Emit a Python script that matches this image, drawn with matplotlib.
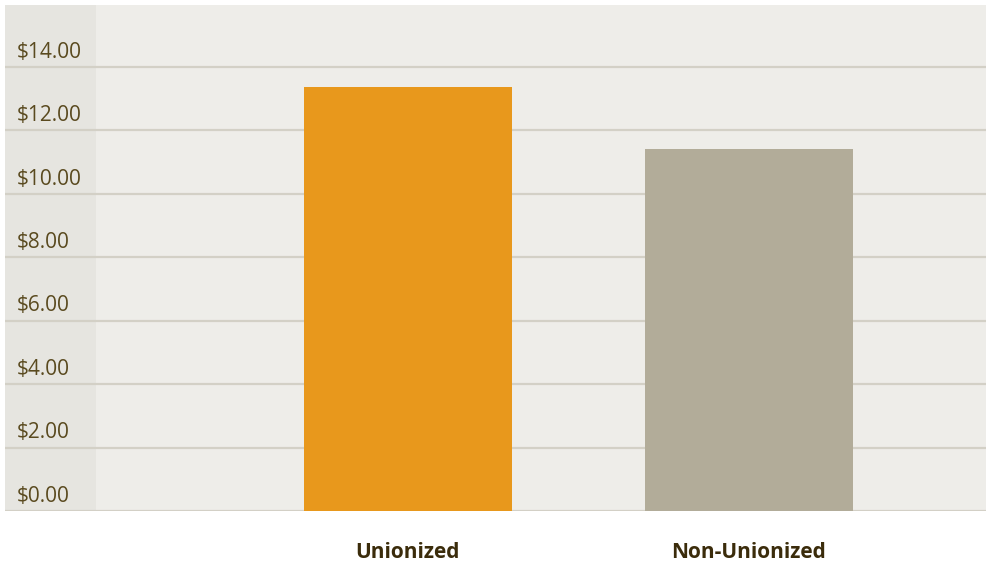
import matplotlib
matplotlib.use("Agg")
import matplotlib.pyplot as plt
import matplotlib.transforms as mtransforms

categories = ["Unionized", "Non-Unionized"]
values = [13.35, 11.40]
bar_colors = ["#E8981C", "#B2AC99"]
yticks = [0, 2, 4, 6, 8, 10, 12, 14]
ytick_labels = ["$%.2f" % v for v in yticks]

fam = ["Open Sans", "DejaVu Sans"]

fig = plt.figure(figsize=(9.86, 5.63), dpi=100, facecolor="white")
W, H = 986, 563
ax = fig.add_axes([5 / W, (H - 511) / H, (986 - 5) / W, (511 - 5) / H])
ax.set_facecolor("#EEEDE9")

x = list(range(len(categories)))
ax.set_xlim(-1.18, 1.695)
ax.set_ylim(0, 15.95)

ax.axvspan(-1.18, -0.912, color="#E6E5E0", zorder=0, lw=0)

for v in yticks:
    ax.axhline(v, color="#D3D0C6", lw=1.6, zorder=1)

ax.bar(x, values, width=0.61, color=bar_colors, zorder=2)

for s in ax.spines.values():
    s.set_visible(False)

ax.set_yticks([])
trans = mtransforms.blended_transform_factory(ax.transAxes, ax.transData)
offset = mtransforms.ScaledTranslation(0, 3 / 72, fig.dpi_scale_trans)
for v, lab in zip(yticks, ytick_labels):
    ax.text(12 / 981, v, lab, transform=trans + offset, ha="left", va="bottom",
            fontsize=15, color="#5A4A1F", family=fam)

ax.set_xticks(x)
ax.set_xticklabels(categories, fontsize=15, fontweight="bold", color="#3B2C0B", family=fam)
ax.tick_params(axis="x", length=0, pad=22)

fig.savefig("out.png", dpi=100, facecolor="white")
